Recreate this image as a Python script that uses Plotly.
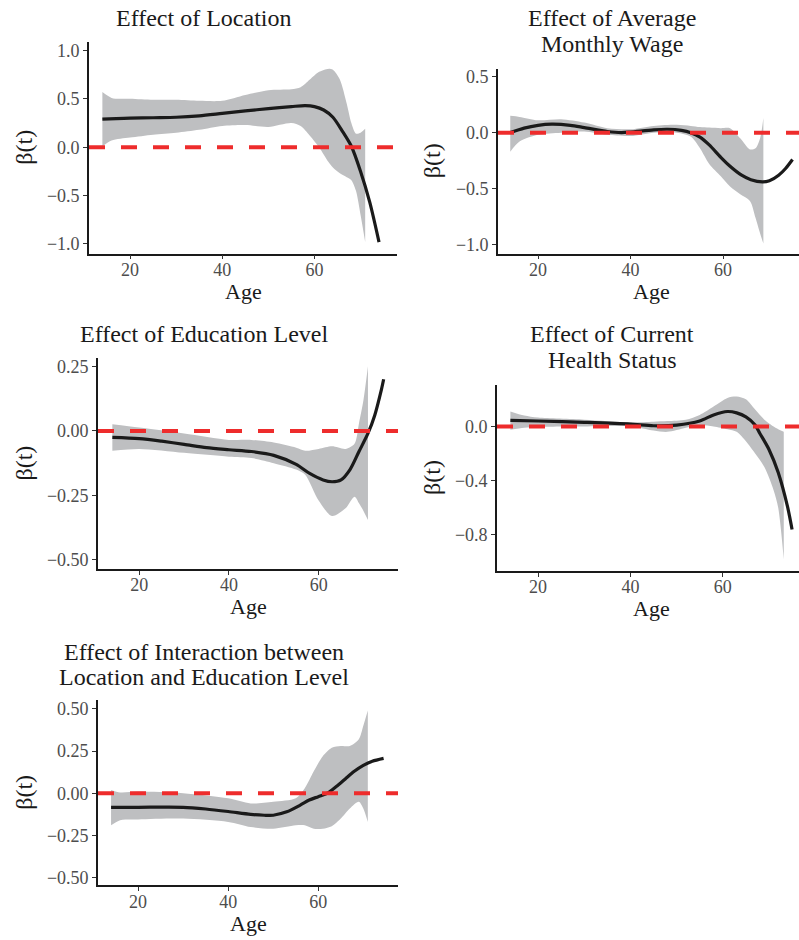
import plotly.graph_objects as go

# ---------------- data ----------------
# Panel 1: Effect of Location
loc_line_age = [14, 17, 20, 25, 30, 35, 40, 45, 50, 55, 58, 60, 62, 64, 66, 68, 70, 72, 74]
loc_line = [0.29, 0.295, 0.30, 0.305, 0.31, 0.325, 0.35, 0.375, 0.40, 0.42, 0.43, 0.42, 0.385, 0.31,
            0.17, 0.01, -0.25, -0.57, -0.98]
loc_band_age = [14, 16, 20, 25, 30, 35, 40, 45, 50, 55, 57, 59, 61, 63, 64, 65.5, 67, 68, 69, 70, 71]
loc_upper = [0.57, 0.51, 0.50, 0.49, 0.49, 0.48, 0.48, 0.54, 0.59, 0.60, 0.62, 0.70, 0.78, 0.81, 0.80,
             0.70, 0.45, 0.25, 0.14, 0.15, 0.19]
loc_lower = [0.01, 0.07, 0.10, 0.13, 0.15, 0.18, 0.22, 0.23, 0.21, 0.25, 0.22, 0.12, 0.0, -0.15, -0.21,
             -0.27, -0.31, -0.34, -0.45, -0.70, -0.98]

# Panel 2: Effect of Average Monthly Wage
wage_line_age = [14, 17, 20, 23, 27, 30, 35, 38, 40, 45, 48, 51, 53, 55, 57, 59.5, 61.5, 64, 66, 68.5,
                 70, 72, 73.5, 75]
wage_line = [0.0, 0.04, 0.065, 0.075, 0.065, 0.045, 0.01, 0.0, 0.005, 0.025, 0.03, 0.02, 0.0, -0.04,
             -0.11, -0.22, -0.30, -0.38, -0.42, -0.44, -0.43, -0.38, -0.32, -0.24]
wage_band_age = [14, 16, 20, 25, 30, 35, 40, 45, 50, 53, 55, 57, 59.5, 61.5, 63.7, 65.8, 67, 68, 68.7]
wage_upper = [0.15, 0.14, 0.11, 0.12, 0.09, 0.04, 0.03, 0.06, 0.07, 0.06, 0.05, 0.045, 0.04, 0.04,
              -0.05, -0.15, -0.14, -0.05, 0.13]
wage_lower = [-0.17, -0.08, -0.02, 0.0, 0.01, -0.02, -0.03, 0.0, 0.0, -0.035, -0.14, -0.28, -0.39,
              -0.48, -0.55, -0.61, -0.76, -0.90, -0.99]

# Panel 3: Effect of Education Level
edu_line_age = [14, 20, 25, 30, 35, 40, 45, 50, 55, 58, 61, 63, 65, 67, 69, 71, 72.5, 74, 74.5]
edu_line = [-0.025, -0.03, -0.04, -0.052, -0.065, -0.073, -0.08, -0.095, -0.13, -0.165, -0.19, -0.197,
            -0.19, -0.15, -0.08, -0.01, 0.06, 0.16, 0.20]
edu_band_age = [14, 20, 30, 40, 45, 50, 55, 57, 60, 63, 66, 68, 69, 70, 71]
edu_upper = [0.026, 0.013, -0.01, -0.035, -0.035, -0.045, -0.065, -0.077, -0.07, -0.06, -0.07, -0.05,
             0.03, 0.12, 0.25]
edu_lower = [-0.077, -0.07, -0.085, -0.10, -0.105, -0.125, -0.15, -0.17, -0.27, -0.33, -0.30, -0.255,
             -0.28, -0.31, -0.345]

# Panel 4: Effect of Current Health Status
hlth_line_age = [14, 20, 30, 40, 45, 50, 55, 58, 61, 63, 65, 67, 68, 70, 72, 74, 75]
hlth_line = [0.045, 0.04, 0.03, 0.017, 0.005, 0.01, 0.04, 0.085, 0.11, 0.10, 0.07, 0.01, -0.05, -0.17,
             -0.34, -0.59, -0.76]
hlth_band_age = [14, 17, 20, 30, 40, 45, 48, 52, 55, 58, 61, 63, 65, 67, 69, 71, 72, 73.2]
hlth_upper = [0.11, 0.08, 0.065, 0.05, 0.03, 0.035, 0.04, 0.05, 0.085, 0.147, 0.21, 0.22, 0.20, 0.125,
              0.05, 0.0, -0.02, -0.04]
hlth_lower = [-0.024, -0.01, -0.003, 0.0, 0.0, -0.03, -0.04, -0.01, 0.01, 0.0, -0.02, -0.04, -0.11,
              -0.20, -0.30, -0.47, -0.60, -0.98]

# Panel 5: Effect of Interaction between Location and Education Level
int_line_age = [14, 20, 30, 35, 40, 45, 48, 50, 53, 56, 58, 60, 62, 64, 66, 68, 70, 72, 74.5]
int_line = [-0.083, -0.083, -0.083, -0.093, -0.108, -0.125, -0.13, -0.13, -0.11, -0.07, -0.04, -0.02,
            0.0, 0.04, 0.085, 0.13, 0.165, 0.19, 0.207]
int_band_age = [14, 16, 20, 30, 40, 45, 50, 55, 57, 59, 61, 63, 65, 67, 69, 70, 71]
int_upper = [0.02, 0.005, 0.01, 0.0, -0.03, -0.06, -0.05, -0.03, 0.03, 0.13, 0.22, 0.27, 0.28, 0.28,
             0.32, 0.40, 0.49]
int_lower = [-0.19, -0.16, -0.155, -0.15, -0.17, -0.20, -0.21, -0.19, -0.19, -0.21, -0.21, -0.195,
             -0.15, -0.09, -0.05, -0.09, -0.17]

x_ticks = [20, 40, 60]
y_ticks_1 = [-1.0, -0.5, 0.0, 0.5, 1.0]
y_ticks_2 = [-1.0, -0.5, 0.0, 0.5]
y_ticks_3 = [-0.50, -0.25, 0.00, 0.25]
y_ticks_4 = [-0.8, -0.4, 0.0]
y_ticks_5 = [-0.50, -0.25, 0.00, 0.25, 0.50]

titles = [
    ["Effect of Location"],
    ["Effect of Average", "Monthly Wage"],
    ["Effect of Education Level"],
    ["Effect of Current", "Health Status"],
    ["Effect of Interaction between", "Location and Education Level"],
]
x_title = "Age"
y_title = "β(t)"

# ---------------- layout geometry (pixels) ----------------
W, H = 799, 940
FONT = "Liberation Serif"
BAND = "#BEBFC1"
RED = "#EE2C2C"

panels = [
    dict(la=loc_line_age, l=loc_line, ba=loc_band_age, up=loc_upper, lo=loc_lower, yt=y_ticks_1,
         fmt=".1f", xpx=(89, 397), ypx=(40, 253), xr=[11.1, 77.9], yr=[-1.10, 1.09],
         tcx=204, tys=[16], ylx=24),
    dict(la=wage_line_age, l=wage_line, ba=wage_band_age, up=wage_upper, lo=wage_lower, yt=y_ticks_2,
         fmt=".1f", xpx=(498, 799), ypx=(67, 253), xr=[11.35, 76.4], yr=[-1.08, 0.571],
         tcx=612, tys=[16, 42], ylx=432),
    dict(la=edu_line_age, l=edu_line, ba=edu_band_age, up=edu_upper, lo=edu_lower, yt=y_ticks_3,
         fmt=".2f", xpx=(98, 398), ypx=(358, 570), xr=[10.8, 77.7], yr=[-0.535, 0.282],
         tcx=204, tys=[334], ylx=24),
    dict(la=hlth_line_age, l=hlth_line, ba=hlth_band_age, up=hlth_upper, lo=hlth_lower, yt=y_ticks_4,
         fmt=".1f", xpx=(497, 799), ypx=(385, 572), xr=[11.1, 76.5], yr=[-1.066, 0.306],
         tcx=612, tys=[334, 360], ylx=432),
    dict(la=int_line_age, l=int_line, ba=int_band_age, up=int_upper, lo=int_lower, yt=y_ticks_5,
         fmt=".2f", xpx=(98, 398), ypx=(702, 888), xr=[11.1, 77.7], yr=[-0.545, 0.551],
         tcx=204, tys=[653, 679], ylx=24),
]

fig = go.Figure()
annotations = []
shapes = []

for i, p in enumerate(panels, start=1):
    xa = "x" if i == 1 else f"x{i}"
    ya = "y" if i == 1 else f"y{i}"
    # confidence band
    fig.add_trace(go.Scatter(x=p["ba"], y=p["lo"], mode="lines", line=dict(width=0, shape="spline",
                             smoothing=0.8, color=BAND), showlegend=False, hoverinfo="skip",
                             xaxis=xa, yaxis=ya))
    fig.add_trace(go.Scatter(x=p["ba"], y=p["up"], mode="lines", line=dict(width=0, shape="spline",
                             smoothing=0.8, color=BAND), fill="tonexty", fillcolor=BAND,
                             showlegend=False, hoverinfo="skip", xaxis=xa, yaxis=ya))
    # estimate
    fig.add_trace(go.Scatter(x=p["la"], y=p["l"], mode="lines",
                             line=dict(color="#1A1A1A", width=3.2, shape="spline", smoothing=0.8),
                             showlegend=False, xaxis=xa, yaxis=ya))
    # zero line
    shapes.append(dict(type="line", xref=f"{xa} domain", yref=ya, x0=0, x1=1, y0=0, y1=0,
                       line=dict(color=RED, width=4, dash="16px,16px"), layer="above"))

    axis_common = dict(showgrid=False, zeroline=False, showline=True, linecolor="#1A1A1A",
                       linewidth=1.6, ticks="outside", ticklen=4, tickwidth=1.4, tickcolor="#333333",
                       tickfont=dict(family=FONT, size=18, color="#4D4D4D"))
    x0, x1 = p["xpx"]
    yt, yb = p["ypx"]
    fig.update_layout(**{
        ("xaxis" if i == 1 else f"xaxis{i}"): dict(
            domain=[x0 / W, x1 / W], range=p["xr"], anchor=ya, tickvals=x_ticks,
            ticklabelstandoff=-5, **axis_common),
        ("yaxis" if i == 1 else f"yaxis{i}"): dict(
            domain=[1 - yb / H, 1 - yt / H], range=p["yr"], anchor=xa, tickvals=p["yt"],
            tickformat=p["fmt"], **axis_common),
    })

    # titles
    for t, ty in zip(titles[i - 1], p["tys"]):
        annotations.append(dict(text=t, x=p["tcx"] / W, y=1 - ty / H, xref="paper", yref="paper",
                                xanchor="center", yanchor="middle", showarrow=False,
                                font=dict(family=FONT, size=24, color="#1A1A1A")))
    # x axis title
    annotations.append(dict(text=x_title, x=((x0 + x1) / 2 + (3 if i in (2, 4) else 0)) / W,
                            y=1 - (yb + 38) / H, xref="paper", yref="paper", xanchor="center",
                            yanchor="middle", showarrow=False,
                            font=dict(family=FONT, size=22, color="#1A1A1A")))
    # y axis title
    annotations.append(dict(text=y_title, x=p["ylx"] / W, y=1 - ((yt + yb) / 2) / H, xref="paper",
                            yref="paper", xanchor="center", yanchor="middle", textangle=-90,
                            showarrow=False, font=dict(family=FONT, size=24, color="#1A1A1A")))

fig.update_layout(width=W, height=H, margin=dict(l=0, r=0, t=0, b=0), paper_bgcolor="white",
                  plot_bgcolor="white", annotations=annotations, shapes=shapes, showlegend=False)

fig.write_html("out.html", config={"displayModeBar": False},
               post_script="document.body.style.margin='0';document.body.style.padding='0';"
                           "document.body.style.overflow='hidden';")
